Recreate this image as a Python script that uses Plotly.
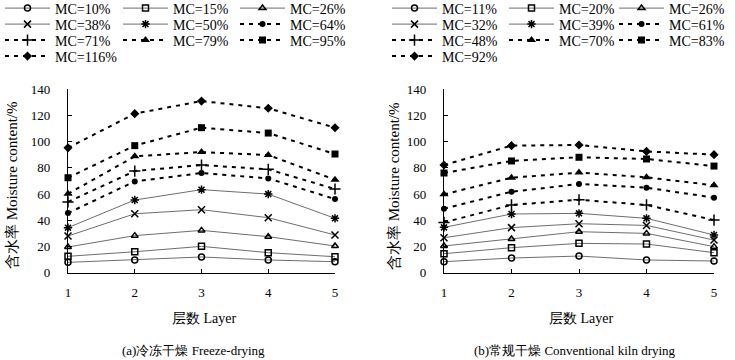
import plotly.graph_objects as go

layers = [1, 2, 3, 4, 5]

# (a) Freeze-drying
fd_names = ["MC=10%", "MC=15%", "MC=26%", "MC=38%", "MC=50%",
            "MC=64%", "MC=71%", "MC=79%", "MC=95%", "MC=116%"]
fd_mc10 = [7.9, 9.7, 12.0, 9.7, 8.4]
fd_mc15 = [12.5, 16.0, 20.1, 15.3, 12.2]
fd_mc26 = [19.6, 28.3, 32.3, 27.5, 20.4]
fd_mc38 = [28.0, 45.0, 48.1, 42.0, 28.8]
fd_mc50 = [34.4, 55.5, 63.4, 60.0, 41.5]
fd_mc64 = [45.5, 69.7, 76.1, 72.0, 56.2]
fd_mc71 = [54.0, 77.6, 82.2, 78.9, 63.9]
fd_mc79 = [60.2, 88.8, 92.1, 89.8, 71.0]
fd_mc95 = [72.5, 97.0, 110.7, 106.6, 90.6]
fd_mc116 = [95.3, 121.4, 131.0, 125.5, 110.7]
fd_values = [fd_mc10, fd_mc15, fd_mc26, fd_mc38, fd_mc50,
             fd_mc64, fd_mc71, fd_mc79, fd_mc95, fd_mc116]

# (b) Conventional kiln drying
kd_names = ["MC=11%", "MC=20%", "MC=26%", "MC=32%", "MC=39%",
            "MC=61%", "MC=48%", "MC=70%", "MC=83%", "MC=92%"]
kd_mc11 = [8.4, 11.2, 12.7, 9.7, 8.9]
kd_mc20 = [14.5, 19.1, 22.4, 21.9, 15.3]
kd_mc26 = [20.4, 25.7, 31.3, 30.0, 19.9]
kd_mc32 = [26.7, 34.4, 37.4, 36.1, 24.9]
kd_mc39 = [34.6, 44.8, 45.3, 41.5, 28.8]
kd_mc61 = [48.9, 61.8, 67.7, 64.9, 57.3]
kd_mc48 = [38.4, 51.7, 55.7, 51.7, 40.2]
kd_mc70 = [59.8, 72.5, 76.4, 72.8, 66.7]
kd_mc83 = [76.1, 85.3, 88.1, 86.8, 81.4]
kd_mc92 = [82.2, 97.0, 97.5, 92.6, 90.1]
kd_values = [kd_mc11, kd_mc20, kd_mc26, kd_mc32, kd_mc39,
             kd_mc61, kd_mc48, kd_mc70, kd_mc83, kd_mc92]

y_ticks = [0, 20, 40, 60, 80, 100, 120, 140]

symbols = ["circle-open", "square-open", "triangle-up-open", "x-thin-open",
           "asterisk-open", "circle", "cross-thin-open", "triangle-up",
           "square", "diamond"]
sizes = [6, 6, 6, 7, 7, 6, 8, 8, 7, 7]

SERIF = "Liberation Serif"

W, H = 735, 360
fig = go.Figure()

# legend entry positions (text start, px) and row centres (px)
col_text = {0: [60, 178, 295], 1: [447, 564, 674]}
row_y = [8.5, 24.5, 40.5, 56.5]
leg_font = dict(family=SERIF, size=14, color="black")
ITEM_W = 45
TEXT_OFF = ITEM_W + 15

legend_counter = [0]

def next_legend_key():
    legend_counter[0] += 1
    n = legend_counter[0]
    return "legend" if n == 1 else "legend%d" % n

def add_panel(p, names, values, xa, ya):
    for i, (nm, vals) in enumerate(zip(names, values)):
        dashed = i >= 5
        sym = symbols[i]
        filled = sym in ("circle", "triangle-up", "square", "diamond")
        if dashed:
            line = dict(color="black", width=2, dash="4px,5px")
        else:
            line = dict(color="#6e6e6e", width=1)
        marker = dict(symbol=sym, size=sizes[i], color="black",
                      line=dict(width=0 if filled else 1.5, color="black"))
        key = next_legend_key()
        fig.add_trace(go.Scatter(
            x=layers, y=vals, name=nm, mode="lines+markers",
            line=line, marker=marker, xaxis=xa, yaxis=ya,
            cliponaxis=False, legend=key, showlegend=True))
        r, c = divmod(i, 3)
        fig.update_layout(**{key: dict(
            x=(col_text[p][c] - TEXT_OFF) / W, xanchor="left",
            y=1 - row_y[r] / H, yanchor="middle", itemwidth=ITEM_W,
            bgcolor="rgba(0,0,0,0)", borderwidth=0, font=leg_font)})

add_panel(0, fd_names, fd_values, "x", "y")
add_panel(1, kd_names, kd_values, "x2", "y2")

ydom = [(H - 272.7) / H, (H - 89.3) / H]

axis_common = dict(showline=True, linecolor="black", linewidth=1.2,
                   ticks="inside", ticklen=4, tickcolor="black",
                   showgrid=False, zeroline=False, automargin=False,
                   tickfont=dict(family=SERIF, size=13, color="black"))

fig.update_layout(
    width=W, height=H,
    margin=dict(l=0, r=0, t=0, b=0, pad=0, autoexpand=False),
    paper_bgcolor="white", plot_bgcolor="white", showlegend=True,
    font=dict(family=SERIF),
    xaxis=dict(domain=[68 / W, 335 / W], range=[1, 5], tickvals=layers,
               anchor="y", ticklabelstandoff=8, **axis_common),
    yaxis=dict(domain=ydom, range=[0, 140], tickvals=y_ticks,
               anchor="x", ticklabelstandoff=14, **axis_common),
    xaxis2=dict(domain=[444 / W, 714 / W], range=[1, 5], tickvals=layers,
                anchor="y2", ticklabelstandoff=8, **axis_common),
    yaxis2=dict(domain=ydom, range=[0, 140], tickvals=y_ticks,
                anchor="x2", ticklabelstandoff=14, **axis_common),
)

ann = []
ytitle = "含水率 Moisture content/%"
for xc in (12, 394):
    ann.append(dict(text=ytitle, x=xc / W, y=1 - 186 / H, xref="paper", yref="paper",
                    showarrow=False, textangle=-90, xanchor="center", yanchor="middle",
                    font=dict(family=SERIF, size=15, color="black")))
for xc in (204, 581):
    ann.append(dict(text="层数 Layer", x=xc / W, y=1 - 318 / H, xref="paper", yref="paper",
                    showarrow=False, xanchor="center", yanchor="middle",
                    font=dict(family=SERIF, size=14, color="black")))
ann.append(dict(text="(a)冷冻干燥 Freeze-drying", x=193 / W, y=1 - 350.5 / H,
                xref="paper", yref="paper", showarrow=False, xanchor="center",
                yanchor="middle", font=dict(family=SERIF, size=13, color="black")))
ann.append(dict(text="(b)常规干燥 Conventional kiln drying", x=575 / W, y=1 - 350.5 / H,
                xref="paper", yref="paper", showarrow=False, xanchor="center",
                yanchor="middle", font=dict(family=SERIF, size=13, color="black")))
fig.update_layout(annotations=ann)

fig.write_html("out.html", config={"displayModeBar": False},
               post_script="document.body.style.margin='0px';")
